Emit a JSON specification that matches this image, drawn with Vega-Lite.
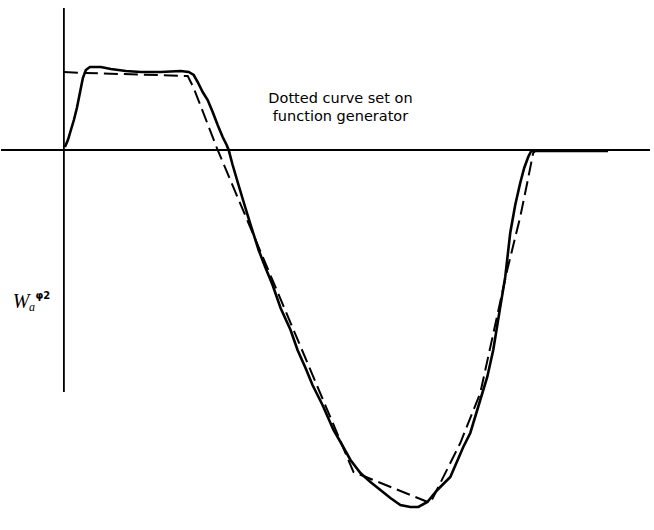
{
  "$schema": "https://vega.github.io/schema/vega-lite/v6.json",
  "width": 654,
  "height": 530,
  "padding": 0,
  "autosize": {"type": "fit", "contains": "padding"},
  "background": "white",
  "config": {"view": {"stroke": null}},
  "datasets": {
    "axes": [
      {"x": 0, "x2": 0, "y": 142, "y2": -242},
      {"x": -63, "x2": 587, "y": 0, "y2": 0}
    ],
    "curves": [
      {"curve": "measured", "x": 1, "y": 3},
      {"curve": "measured", "x": 4, "y": 10},
      {"curve": "measured", "x": 7, "y": 20},
      {"curve": "measured", "x": 10, "y": 30},
      {"curve": "measured", "x": 13, "y": 42},
      {"curve": "measured", "x": 15, "y": 52},
      {"curve": "measured", "x": 17, "y": 62},
      {"curve": "measured", "x": 19, "y": 72},
      {"curve": "measured", "x": 22, "y": 80},
      {"curve": "measured", "x": 26, "y": 83},
      {"curve": "measured", "x": 32, "y": 83},
      {"curve": "measured", "x": 37, "y": 83},
      {"curve": "measured", "x": 47, "y": 81},
      {"curve": "measured", "x": 62, "y": 79},
      {"curve": "measured", "x": 77, "y": 78},
      {"curve": "measured", "x": 97, "y": 78},
      {"curve": "measured", "x": 117, "y": 79},
      {"curve": "measured", "x": 125, "y": 78},
      {"curve": "measured", "x": 130, "y": 75},
      {"curve": "measured", "x": 134, "y": 68},
      {"curve": "measured", "x": 139, "y": 58},
      {"curve": "measured", "x": 144, "y": 50},
      {"curve": "measured", "x": 149, "y": 38},
      {"curve": "measured", "x": 154, "y": 25},
      {"curve": "measured", "x": 159, "y": 13},
      {"curve": "measured", "x": 163, "y": 5},
      {"curve": "measured", "x": 165, "y": 0},
      {"curve": "measured", "x": 169, "y": -15},
      {"curve": "measured", "x": 174, "y": -32},
      {"curve": "measured", "x": 180, "y": -52},
      {"curve": "measured", "x": 187, "y": -75},
      {"curve": "measured", "x": 195, "y": -100},
      {"curve": "measured", "x": 202, "y": -118},
      {"curve": "measured", "x": 209, "y": -135},
      {"curve": "measured", "x": 217, "y": -158},
      {"curve": "measured", "x": 227, "y": -180},
      {"curve": "measured", "x": 234, "y": -200},
      {"curve": "measured", "x": 242, "y": -218},
      {"curve": "measured", "x": 249, "y": -235},
      {"curve": "measured", "x": 259, "y": -255},
      {"curve": "measured", "x": 270, "y": -280},
      {"curve": "measured", "x": 277, "y": -292},
      {"curve": "measured", "x": 287, "y": -310},
      {"curve": "measured", "x": 297, "y": -323},
      {"curve": "measured", "x": 307, "y": -332},
      {"curve": "measured", "x": 317, "y": -340},
      {"curve": "measured", "x": 327, "y": -348},
      {"curve": "measured", "x": 337, "y": -355},
      {"curve": "measured", "x": 347, "y": -357},
      {"curve": "measured", "x": 355, "y": -357},
      {"curve": "measured", "x": 364, "y": -352},
      {"curve": "measured", "x": 374, "y": -340},
      {"curve": "measured", "x": 387, "y": -327},
      {"curve": "measured", "x": 400, "y": -297},
      {"curve": "measured", "x": 407, "y": -283},
      {"curve": "measured", "x": 417, "y": -250},
      {"curve": "measured", "x": 424, "y": -227},
      {"curve": "measured", "x": 430, "y": -200},
      {"curve": "measured", "x": 437, "y": -157},
      {"curve": "measured", "x": 442, "y": -127},
      {"curve": "measured", "x": 447, "y": -83},
      {"curve": "measured", "x": 452, "y": -55},
      {"curve": "measured", "x": 457, "y": -33},
      {"curve": "measured", "x": 461, "y": -18},
      {"curve": "measured", "x": 465, "y": -7},
      {"curve": "measured", "x": 468, "y": -1},
      {"curve": "measured", "x": 545, "y": -1},
      {"curve": "set", "x": 0, "y": 78},
      {"curve": "set", "x": 22, "y": 77},
      {"curve": "set", "x": 124, "y": 74},
      {"curve": "set", "x": 130, "y": 62},
      {"curve": "set", "x": 154, "y": 0},
      {"curve": "set", "x": 290, "y": -322},
      {"curve": "set", "x": 367, "y": -353},
      {"curve": "set", "x": 397, "y": -293},
      {"curve": "set", "x": 417, "y": -243},
      {"curve": "set", "x": 444, "y": -120},
      {"curve": "set", "x": 457, "y": -67},
      {"curve": "set", "x": 464, "y": -33},
      {"curve": "set", "x": 470, "y": -3},
      {"curve": "set", "x": 473, "y": 0}
    ],
    "note": [
      {"x": 277, "y": 51, "text": "Dotted curve set on"},
      {"x": 277, "y": 33, "text": "function generator"}
    ],
    "wmain": [{"x": -43, "y": -152, "text": "W"}],
    "wsub": [{"x": -32, "y": -157, "text": "a"}],
    "wsup": [{"x": -21, "y": -146, "text": "φ2"}]
  },
  "encoding": {
    "x": {"field": "x", "type": "quantitative", "scale": {"domain": [-63, 591], "nice": false, "zero": false}, "axis": null},
    "y": {"field": "y", "type": "quantitative", "scale": {"domain": [-380, 150], "nice": false, "zero": false}, "axis": null}
  },
  "layer": [
    {
      "data": {"name": "axes"},
      "mark": {"type": "rule", "color": "black", "strokeWidth": 1.8},
      "encoding": {"x2": {"field": "x2"}, "y2": {"field": "y2"}}
    },
    {
      "data": {"name": "curves"},
      "transform": [{"filter": "datum.curve === 'set'"}],
      "mark": {"type": "line", "color": "black", "strokeWidth": 2, "strokeDash": [14, 6]},
      "encoding": {"order": {"value": null}}
    },
    {
      "data": {"name": "curves"},
      "transform": [{"filter": "datum.curve === 'measured'"}],
      "mark": {"type": "line", "color": "black", "strokeWidth": 2.6},
      "encoding": {"order": {"value": null}}
    },
    {
      "data": {"name": "note"},
      "mark": {"type": "text", "font": "DejaVu Sans", "fontSize": 14.5, "align": "center", "baseline": "middle", "color": "black"},
      "encoding": {"text": {"field": "text"}}
    },
    {
      "data": {"name": "wmain"},
      "mark": {"type": "text", "font": "Liberation Serif", "fontStyle": "italic", "fontSize": 20, "align": "center", "baseline": "middle", "color": "black"},
      "encoding": {"text": {"field": "text"}}
    },
    {
      "data": {"name": "wsub"},
      "mark": {"type": "text", "font": "Liberation Serif", "fontStyle": "italic", "fontSize": 12, "align": "center", "baseline": "middle", "color": "black"},
      "encoding": {"text": {"field": "text"}}
    },
    {
      "data": {"name": "wsup"},
      "mark": {"type": "text", "font": "DejaVu Sans", "fontWeight": "bold", "fontSize": 10, "align": "center", "baseline": "middle", "color": "black"},
      "encoding": {"text": {"field": "text"}}
    }
  ]
}
